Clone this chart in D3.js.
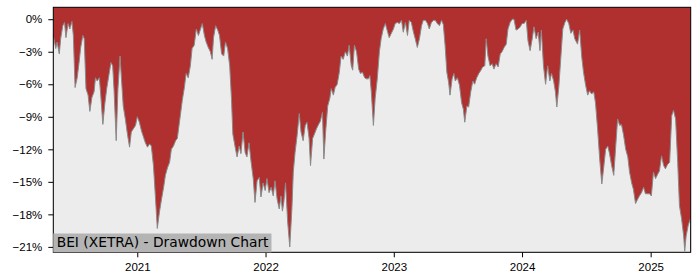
<!DOCTYPE html>
<html>
<head>
<meta charset="utf-8">
<script src="https://cdn.jsdelivr.net/npm/d3@7"></script>
<style>
  body { margin: 0; background: #fff; }
  svg { font-family: "DejaVu Sans", sans-serif; }
  .axis text { font-size: 11.5px; fill: #000; }
  .axis path, .axis line { stroke: #000; stroke-width: 1; }
</style>
</head>
<body>
<div id="chart"></div>
<script>

// drawdown in %, one row per month
let dates2020 = [
  "2020-05-07","2020-05-14","2020-05-18","2020-05-24","2020-05-28",
  "2020-06-03","2020-06-08","2020-06-12","2020-06-18","2020-06-23","2020-06-29",
  "2020-07-03","2020-07-08","2020-07-14","2020-07-20","2020-07-24","2020-07-30",
  "2020-08-03","2020-08-08","2020-08-14","2020-08-19","2020-08-25","2020-08-31",
  "2020-09-04","2020-09-09","2020-09-15","2020-09-19","2020-09-25",
  "2020-10-01","2020-10-06","2020-10-12","2020-10-18","2020-10-23","2020-10-27",
  "2020-11-02","2020-11-07","2020-11-13","2020-11-17","2020-11-22","2020-11-28",
  "2020-12-04","2020-12-10","2020-12-15","2020-12-21","2020-12-27"
];
let dd2020 = [
  -1.5, -2.7, -2.1, -3.2, -1.8,
  -0.6, -0.3, -1.7, -0.4, -0.9, -0.2,
  -1.5, -6.3, -5.4, -3.8, -2.6, -1.5,
  -1.8, -6.4, -7.0, -8.5, -7.2, -6.7,
  -5.4, -5.7, -5.4, -7.0, -9.7,
  -7.7, -6.4, -5.2, -4.0, -4.3, -6.6,
  -11.2, -6.4, -3.4, -5.5, -8.0, -9.2,
  -10.6, -11.8, -10.4, -10.1, -9.8
];

let dates2021 = [
  "2021-01-01","2021-01-07","2021-01-13","2021-01-19","2021-01-24","2021-01-30",
  "2021-02-05","2021-02-10","2021-02-16","2021-02-22","2021-02-27",
  "2021-03-05","2021-03-11","2021-03-17","2021-03-22","2021-03-28",
  "2021-04-03","2021-04-08","2021-04-14","2021-04-20","2021-04-25",
  "2021-05-01","2021-05-09","2021-05-15","2021-05-20","2021-05-26",
  "2021-06-01","2021-06-06","2021-06-12","2021-06-18","2021-06-24","2021-06-29",
  "2021-07-05","2021-07-11","2021-07-16","2021-07-22","2021-07-28",
  "2021-08-02","2021-08-06","2021-08-12","2021-08-18","2021-08-23","2021-08-29",
  "2021-09-04","2021-09-09","2021-09-15","2021-09-21","2021-09-26","2021-09-30",
  "2021-10-06","2021-10-12","2021-10-18","2021-10-23","2021-10-29",
  "2021-11-04","2021-11-09","2021-11-15","2021-11-21","2021-11-27",
  "2021-12-02","2021-12-08","2021-12-14","2021-12-19","2021-12-25","2021-12-31"
];
let dd2021 = [
  -9.0, -9.5, -10.3, -10.9, -11.4, -11.8,
  -11.5, -11.7, -13.5, -16.6, -19.3,
  -17.8, -16.6, -15.5, -14.4, -13.7,
  -13.2, -12.0, -11.7, -11.2, -11.0,
  -9.5, -7.5, -6.3, -5.0, -5.4,
  -4.3, -2.7, -2.4, -0.9, -1.5, -1.0,
  -0.4, -1.5, -2.1, -2.6, -3.0,
  -3.7, -1.7, -0.6, -1.0, -1.5, -3.2,
  -3.4, -2.1, -2.7, -4.3, -7.3, -10.6,
  -11.7, -12.7, -11.7, -12.4, -10.4,
  -12.3, -12.7, -11.4, -13.2, -14.7,
  -16.9, -14.9, -14.6, -16.4, -15.1, -15.8
];

let dates2022 = [
  "2022-01-05","2022-01-11","2022-01-17","2022-01-23","2022-01-28",
  "2022-02-03","2022-02-09","2022-02-14","2022-02-18","2022-02-22","2022-02-27",
  "2022-03-05","2022-03-11","2022-03-17","2022-03-21","2022-03-26",
  "2022-04-01","2022-04-07","2022-04-12","2022-04-18","2022-04-24","2022-04-29",
  "2022-05-05","2022-05-09","2022-05-15","2022-05-20","2022-05-26",
  "2022-06-01","2022-06-06","2022-06-12","2022-06-16","2022-06-21","2022-06-27",
  "2022-07-03","2022-07-07","2022-07-13","2022-07-18","2022-07-24","2022-07-30",
  "2022-08-04","2022-08-10","2022-08-16","2022-08-22","2022-08-27",
  "2022-09-02","2022-09-06","2022-09-11","2022-09-17","2022-09-23","2022-09-28",
  "2022-10-04","2022-10-10","2022-10-15","2022-10-21","2022-10-25","2022-10-29",
  "2022-11-04","2022-11-09","2022-11-15","2022-11-21","2022-11-26",
  "2022-12-02","2022-12-08","2022-12-13","2022-12-19","2022-12-25","2022-12-31"
];
let dd2022 = [
  -14.7, -16.0, -15.5, -16.3, -14.9,
  -16.6, -17.5, -16.3, -17.7, -16.9, -15.1,
  -18.7, -21.0, -17.5, -14.1, -12.3,
  -10.7, -8.7, -10.4, -11.2, -9.8, -9.5,
  -11.0, -13.5, -11.0, -10.6, -10.1,
  -9.7, -9.4, -8.6, -12.9, -10.4, -8.0,
  -7.3, -6.4, -7.0, -6.3, -6.0, -4.9,
  -3.4, -3.7, -3.0, -3.4, -2.4,
  -4.3, -4.7, -2.4, -3.0, -4.6, -5.0,
  -4.9, -5.4, -5.5, -5.5, -5.2, -6.7,
  -9.8, -7.3, -5.5, -3.0, -1.8,
  -0.9, -0.4, -1.0, -1.7, -1.3, -0.9
];

let dates2023 = [
  "2023-01-05","2023-01-11","2023-01-17","2023-01-23","2023-01-28",
  "2023-02-03","2023-02-09","2023-02-14","2023-02-20","2023-02-26",
  "2023-03-03","2023-03-09","2023-03-15","2023-03-21","2023-03-26",
  "2023-04-01","2023-04-07","2023-04-12","2023-04-18","2023-04-24","2023-04-29",
  "2023-05-05","2023-05-11","2023-05-17","2023-05-22","2023-05-27",
  "2023-06-01","2023-06-06","2023-06-10","2023-06-16","2023-06-21","2023-06-25",
  "2023-07-01","2023-07-07","2023-07-13","2023-07-18","2023-07-22","2023-07-28",
  "2023-08-02","2023-08-08","2023-08-14","2023-08-19","2023-08-25","2023-08-31",
  "2023-09-06","2023-09-11","2023-09-17","2023-09-21","2023-09-26",
  "2023-10-02","2023-10-08","2023-10-13","2023-10-19","2023-10-25","2023-10-31",
  "2023-11-05","2023-11-11","2023-11-17","2023-11-22","2023-11-28",
  "2023-12-04","2023-12-09","2023-12-15","2023-12-21","2023-12-27"
];
let dd2023 = [
  -0.4, -0.3, -0.4, -0.1, -1.2,
  -0.3, -1.5, -0.1, -0.3, -1.2,
  -1.8, -2.6, -1.8, -0.6, -0.1,
  -0.1, -0.4, -0.9, -0.3, -0.1, -0.1,
  -0.4, -0.6, -0.1, -0.5, -2.4,
  -4.9, -5.8, -7.0, -5.5, -5.0, -5.7,
  -5.4, -6.1, -7.7, -8.3, -9.5, -8.0,
  -8.1, -6.7, -5.7, -6.0, -5.4, -5.0,
  -4.7, -4.4, -4.3, -1.8, -3.4,
  -4.3, -4.1, -4.6, -4.1, -4.4, -3.2,
  -3.0, -2.6, -2.3, -0.9, -0.3,
  0, 0, -1.0, -0.9, -0.7
];

let dates2024 = [
  "2024-01-01","2024-01-07","2024-01-13","2024-01-18","2024-01-24","2024-01-30",
  "2024-02-04","2024-02-10","2024-02-16","2024-02-21","2024-02-25",
  "2024-03-02","2024-03-08","2024-03-14","2024-03-20","2024-03-25","2024-03-31",
  "2024-04-05","2024-04-09","2024-04-15","2024-04-20","2024-04-26",
  "2024-05-02","2024-05-07","2024-05-13","2024-05-19","2024-05-25","2024-05-30",
  "2024-06-07","2024-06-13","2024-06-19","2024-06-24","2024-06-30",
  "2024-07-06","2024-07-11","2024-07-17","2024-07-23","2024-07-28",
  "2024-08-03","2024-08-09","2024-08-15","2024-08-20","2024-08-26",
  "2024-09-01","2024-09-06","2024-09-12","2024-09-18","2024-09-23","2024-09-29",
  "2024-10-05","2024-10-10","2024-10-16","2024-10-22","2024-10-28",
  "2024-11-02","2024-11-08","2024-11-13","2024-11-19","2024-11-25","2024-11-30",
  "2024-12-06","2024-12-12","2024-12-17","2024-12-23","2024-12-29"
];
let dd2024 = [
  -0.4, -0.4, -0.1, -2.0, -2.9, -1.8,
  -0.7, -1.8, -1.2, -2.9, -1.0,
  -4.3, -6.0, -4.3, -5.7, -5.0, -5.7,
  -6.7, -8.1, -6.1, -3.7, -0.9,
  -0.3, 0, -0.4, -1.3, -1.0, -1.8,
  -2.3, -1.0, -3.5, -4.9, -6.1,
  -7.0, -6.6, -6.9, -6.7, -7.7,
  -10.1, -12.9, -15.2, -13.8, -12.0,
  -11.7, -12.4, -13.5, -14.4, -12.0, -9.2,
  -9.8, -9.7, -10.7, -12.0, -12.7,
  -14.1, -15.1, -15.7, -17.0, -16.6, -16.3,
  -16.0, -15.5, -16.1, -16.1, -16.1
];

let dates2025 = [
  "2025-01-03","2025-01-09","2025-01-15","2025-01-21","2025-01-26",
  "2025-02-01","2025-02-07","2025-02-12","2025-02-18","2025-02-24",
  "2025-03-02","2025-03-07","2025-03-13","2025-03-19","2025-03-24","2025-03-30",
  "2025-04-05","2025-04-08","2025-04-12","2025-04-18","2025-04-24"
];
let dd2025 = [
  -16.3, -14.1, -14.7, -14.3, -14.0,
  -12.6, -13.5, -13.8, -13.4, -13.2,
  -8.9, -8.4, -9.2, -13.2, -17.2, -18.4,
  -20.0, -21.4, -20.0, -19.0, -18.4
];

let yticks = [0, -3, -6, -9, -12, -15, -18, -21];
let xticks = ["2021-01-01", "2022-01-01", "2023-01-01", "2024-01-01", "2025-01-01"];
let title = "BEI (XETRA) - Drawdown Chart";

let parse = d3.timeParse("%Y-%m-%d");
let dates = [].concat(dates2020, dates2021, dates2022, dates2023, dates2024, dates2025);
let values = [].concat(dd2020, dd2021, dd2022, dd2023, dd2024, dd2025);
let data = dates.map((d, i) => ({ date: parse(d), dd: values[i] }));

let width = 700, height = 280;
let margin = {left: 53.3, right: 9.3, top: 7.3, bottom: 27.7};
let w = width - margin.left - margin.right,
    h = height - margin.top - margin.bottom;

let svg = d3.select("#chart").append("svg")
    .attr("width", width)
    .attr("height", height);

let g = svg.append("g")
    .attr("transform", "translate(" + margin.left + "," + margin.top + ")");

let xscale = d3.scaleTime()
    .domain([parse("2020-05-07"), parse("2025-04-25")])
    .range([0, w]);
let yscale = d3.scaleLinear().domain([-21.5, 1.1]).range([h, 0]);

// red everywhere, grey below the drawdown curve
g.append("rect")
    .attr("width", w)
    .attr("height", h)
    .attr("fill", "#b03030");

let area = d3.area()
    .x(d => xscale(d.date))
    .y0(h)
    .y1(d => yscale(d.dd));

g.append("path")
    .datum(data)
    .attr("d", area)
    .attr("fill", "#ececec");

let line = d3.line()
    .x(d => xscale(d.date))
    .y(d => yscale(d.dd));

g.append("path")
    .datum(data)
    .attr("d", line)
    .attr("fill", "none")
    .attr("stroke", "#8a8a8a")
    .attr("stroke-width", 1);

let xAxis = d3.axisBottom(xscale)
    .tickValues(xticks.map(parse))
    .tickFormat(d3.timeFormat("%Y"))
    .tickSize(5).tickPadding(6);
let yAxis = d3.axisLeft(yscale)
    .tickValues(yticks)
    .tickFormat(d => (d < 0 ? "\u2212" + (-d) : d) + "%")
    .tickSize(5).tickPadding(6);

g.append("g")
    .attr("class", "x axis")
    .attr("transform", "translate(0," + h + ")")
    .call(xAxis)
    .call(s => s.select(".domain").remove());

g.append("g")
    .attr("class", "y axis")
    .call(yAxis)
    .call(s => s.select(".domain").remove());

// frame
g.append("rect")
    .attr("width", w)
    .attr("height", h)
    .attr("fill", "none")
    .attr("stroke", "#000")
    .attr("stroke-width", 1);

// label box in the lower left corner
let label = g.append("g");
let labelText = label.append("text")
    .attr("x", 3.4)
    .attr("y", h - 5.6)
    .attr("font-size", "13.8px")
    .attr("fill", "#000")
    .text(title);
let tw = labelText.node().getComputedTextLength();
label.insert("rect", "text")
    .attr("x", 0)
    .attr("y", h - 18.8)
    .attr("width", tw + 6.4)
    .attr("height", 18.8)
    .attr("fill", "#b4b4b4");

</script>
</body>
</html>
